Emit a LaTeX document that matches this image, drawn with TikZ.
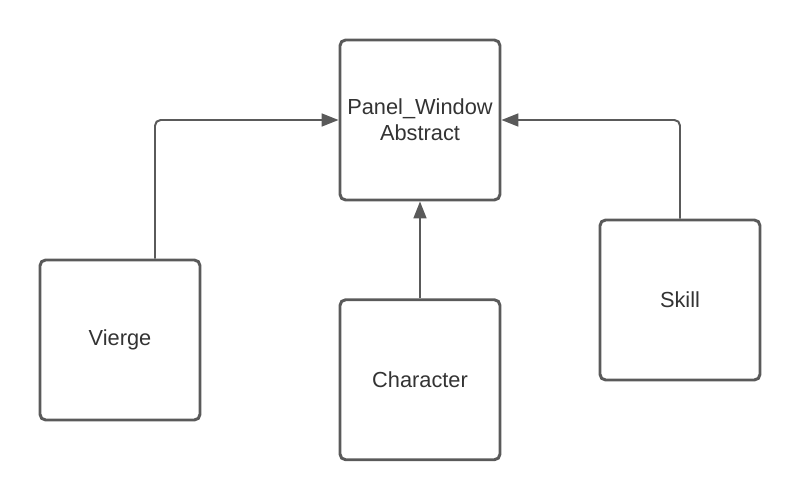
\documentclass[tikz,border=0pt]{standalone}
\usepackage{fontspec}
\setmainfont{Liberation Sans}
\usetikzlibrary{arrows.meta, positioning}
\definecolor{linegray}{HTML}{5A5A5A}
\definecolor{textgray}{HTML}{333333}

\begin{document}
\begin{tikzpicture}[
    box/.style = {rectangle, draw=linegray, line width=2.1pt, rounded corners=4pt, minimum width=4cm, minimum height=4cm, align=center, text=textgray, font=\fontsize{15.5}{18.4}\selectfont},
    arrow/.style = {draw=linegray, line width=1.4pt, rounded corners=4pt, -{Triangle[length=0.42cm, width=0.32cm]}}
]
\useasboundingbox (0,0) rectangle (20,12.5);

\node (panel) [box] at (10.5,9.5) {Panel\_Window\\Abstract};
\node (character) [box, below=2.42cm of panel] {Character};
\node (vierge) [box] at (3,4) {Vierge};
\node (skill) [box] at (17,5) {Skill};

\draw [arrow] ([xshift=0.875cm]vierge.north) |- (panel.west);
\draw [arrow] (character) -- (panel);
\draw [arrow] (skill.north) |- (panel.east);

\end{tikzpicture}
\end{document}
